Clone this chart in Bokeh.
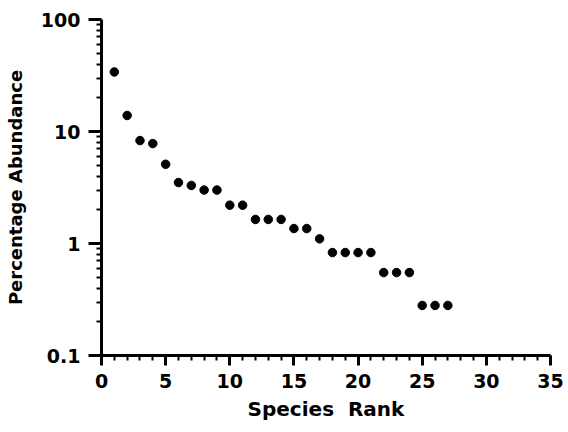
from bokeh.plotting import figure
from bokeh.models import Range1d, FixedTicker, SingleIntervalTicker
from bokeh.embed import file_html
from bokeh.resources import INLINE

rank = list(range(1, 28))
abundance = [34, 13.9, 8.3, 7.8, 5.1, 3.5, 3.3, 3.0, 3.0, 2.2, 2.2,
             1.64, 1.64, 1.64, 1.36, 1.36, 1.1, 0.83, 0.83, 0.83, 0.83,
             0.55, 0.55, 0.55, 0.28, 0.28, 0.28]
y_major = [0.1, 1, 10, 100]
y_minor = [m * d for d in [0.1, 1, 10] for m in range(2, 10)]

FONT = "DejaVu Sans"

p = figure(width=568, height=432, output_backend="svg", toolbar_location=None,
           y_axis_type="log", x_range=Range1d(0, 35), y_range=Range1d(0.1, 100),
           min_border_left=101, min_border_right=18, min_border_top=19,
           min_border_bottom=77)
p.outline_line_color = None
p.xgrid.visible = False
p.ygrid.visible = False
p.background_fill_color = "white"
p.border_fill_color = "white"

p.scatter(rank, abundance, size=8.5, color="black")

xa = p.xaxis[0]
xa.ticker = SingleIntervalTicker(interval=5, num_minor_ticks=5)
xa.axis_label = "Species\u00a0\u00a0Rank"
ya = p.yaxis[0]
ya.ticker = FixedTicker(ticks=y_major, minor_ticks=y_minor)
ya.major_label_overrides = {0.1: "0.1", 1: "1", 10: "10", 100: "100"}
ya.axis_label = "Percentage Abundance"

for ax in (xa, ya):
    ax.axis_line_width = 3
    ax.axis_line_color = "black"
    ax.major_tick_line_width = 3
    ax.minor_tick_line_width = 2
    ax.major_tick_in = 0
    ax.minor_tick_in = 0
    ax.minor_tick_out = 5
    ax.major_label_text_font = FONT
    ax.major_label_text_font_style = "bold"
    ax.major_label_text_font_size = "19px"
    ax.major_label_text_color = "black"
    ax.axis_label_text_font = FONT
    ax.axis_label_text_font_style = "bold"
    ax.axis_label_text_color = "black"

xa.axis_label_text_font_size = "20px"
ya.axis_label_text_font_size = "18px"
xa.major_tick_out = 10
xa.major_label_standoff = 8
xa.axis_label_standoff = 6
ya.major_tick_out = 13
ya.major_label_standoff = 8
ya.axis_label_standoff = 12

open("out.html", "w").write(file_html(p, INLINE))
